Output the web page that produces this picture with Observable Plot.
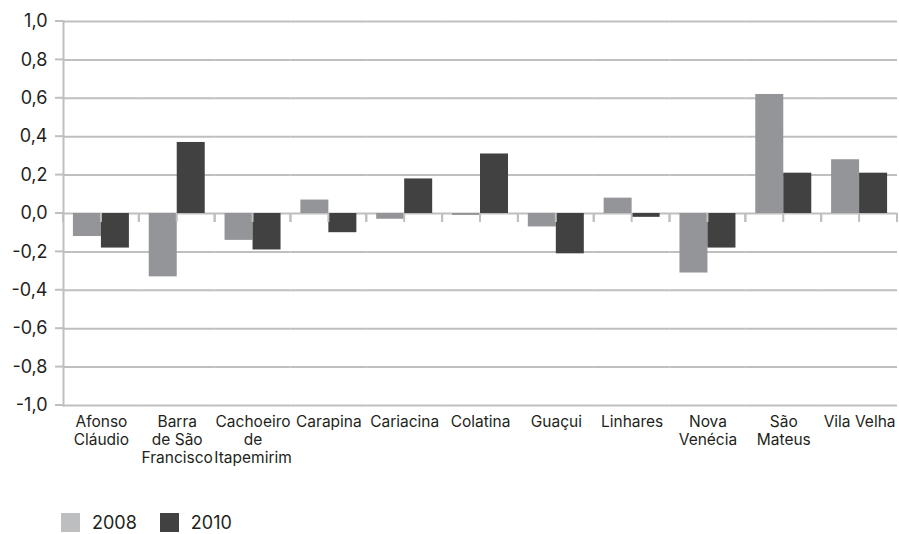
<!DOCTYPE html>
<html>
<head>
<meta charset="utf-8">
<script src="https://cdn.jsdelivr.net/npm/d3@7"></script>
<script src="https://cdn.jsdelivr.net/npm/@observablehq/plot@0.6"></script>
<style>
  html, body { margin: 0; padding: 0; background: #fff; }
  #wrap { position: relative; width: 899px; height: 534px; font-family: Inter, "Noto Sans", sans-serif; color: #231f20; }
  #legend { position: absolute; left: 61px; top: 512px; display: flex; align-items: center; font-size: 18px; }
  .sw { width: 19px; height: 19px; display: inline-block; margin-right: 12px; }
  .item { display: flex; align-items: center; margin-right: 23px; }
</style>
</head>
<body>
<div id="wrap"><div id="chart"></div><div id="legend"></div></div>
<script>
const cities = ["Afonso Cláudio", "Barra de São Francisco", "Cachoeiro de Itapemirim", "Carapina", "Cariacina", "Colatina", "Guaçui", "Linhares", "Nova Venécia", "São Mateus", "Vila Velha"];
const cityLabels = ["Afonso\nCláudio", "Barra\nde São\nFrancisco", "Cachoeiro\nde\nItapemirim", "Carapina", "Cariacina", "Colatina", "Guaçui", "Linhares", "Nova\nVenécia", "São\nMateus", "Vila Velha"];
const years = ["2008", "2010"];
const values2008 = [-0.12, -0.33, -0.14, 0.07, -0.03, -0.01, -0.07, 0.08, -0.31, 0.62, 0.28];
const values2010 = [-0.18, 0.37, -0.19, -0.10, 0.18, 0.31, -0.21, -0.02, -0.18, 0.21, 0.21];
const yTicks = [-1, -0.8, -0.6, -0.4, -0.2, 0, 0.2, 0.4, 0.6, 0.8, 1];
const barColors = ["#939598", "#414142"];
const legendColors = ["#bcbec0", "#414142"];

const data = [];
cities.forEach((c, i) => {
  data.push({city: c, year: years[0], value: values2008[i]});
  data.push({city: c, year: years[1], value: values2010[i]});
});
const labelOf = new Map(cities.map((c, i) => [c, cityLabels[i]]));

const plot = Plot.plot({
  width: 899,
  height: 490,
  marginLeft: 63,
  marginRight: 2,
  marginTop: 21,
  marginBottom: 85,
  style: {fontFamily: "Inter, 'Noto Sans', sans-serif", fontSize: "15px", color: "#231f20", background: "#fff"},
  fx: {domain: cities, padding: 0, round: false},
  x: {domain: years, paddingInner: 0, paddingOuter: 0.354, axis: null, round: false},
  y: {domain: [-1, 1]},
  color: {domain: years, range: barColors},
  marks: [
    Plot.ruleY(yTicks, {stroke: "#bfbfbf", strokeWidth: 2}),
    Plot.frame({anchor: "left", stroke: "#bfbfbf", strokeWidth: 2, facetAnchor: "left"}),
    Plot.barY(data, {fx: "city", x: "year", y: "value", fill: "year"}),
    Plot.axisY({ticks: yTicks, tickFormat: d => d.toFixed(1).replace(".", ","), tickSize: 0, label: null, stroke: "#bfbfbf", strokeWidth: 2, strokeOpacity: 1, text: null}),
    Plot.text(yTicks, {x: null, y: d => d, text: d => d.toFixed(1).replace(".", ","), frameAnchor: "left", dx: -16, textAnchor: "end", fontSize: 18, fill: "#231f20", facetAnchor: "left"}),
    Plot.tickY(yTicks, {y: d => d, stroke: "#bfbfbf", strokeWidth: 2, frameAnchor: "left", facetAnchor: "left", insetLeft: 0}),
    Plot.axisFx({anchor: "bottom", label: null, tickSize: 0, tickPadding: 9, lineHeight: 1.15, fontSize: 15.5, tickFormat: d => labelOf.get(d)})
  ]
});
document.getElementById("chart").appendChild(plot);

const svg = d3.select(plot);
// short outward ticks on the y axis and under the zero line, placed from the library's scales
const fx = plot.scale("fx"), y = plot.scale("y");
const left = fx.apply(cities[0]);
const y0 = y.apply(0);
svg.selectAll("g[aria-label='tick']").remove();
const g = svg.append("g").attr("stroke", "#bfbfbf").attr("stroke-width", 2);
yTicks.forEach(t => {
  const yy = y.apply(t);
  g.append("line").attr("x1", left - 8).attr("x2", left).attr("y1", yy).attr("y2", yy);
});
cities.forEach(c => {
  const x0 = fx.apply(c);
  [x0, x0 + fx.bandwidth / 2, x0 + fx.bandwidth].forEach(xx => {
    g.append("line").attr("x1", xx).attr("x2", xx).attr("y1", y0).attr("y2", y0 + 9);
  });
});

const legend = document.getElementById("legend");
years.forEach((yr, i) => {
  const it = document.createElement("div");
  it.className = "item";
  it.innerHTML = `<span class="sw" style="background:${legendColors[i]}"></span><span>${yr}</span>`;
  legend.appendChild(it);
});
</script>
</body>
</html>
